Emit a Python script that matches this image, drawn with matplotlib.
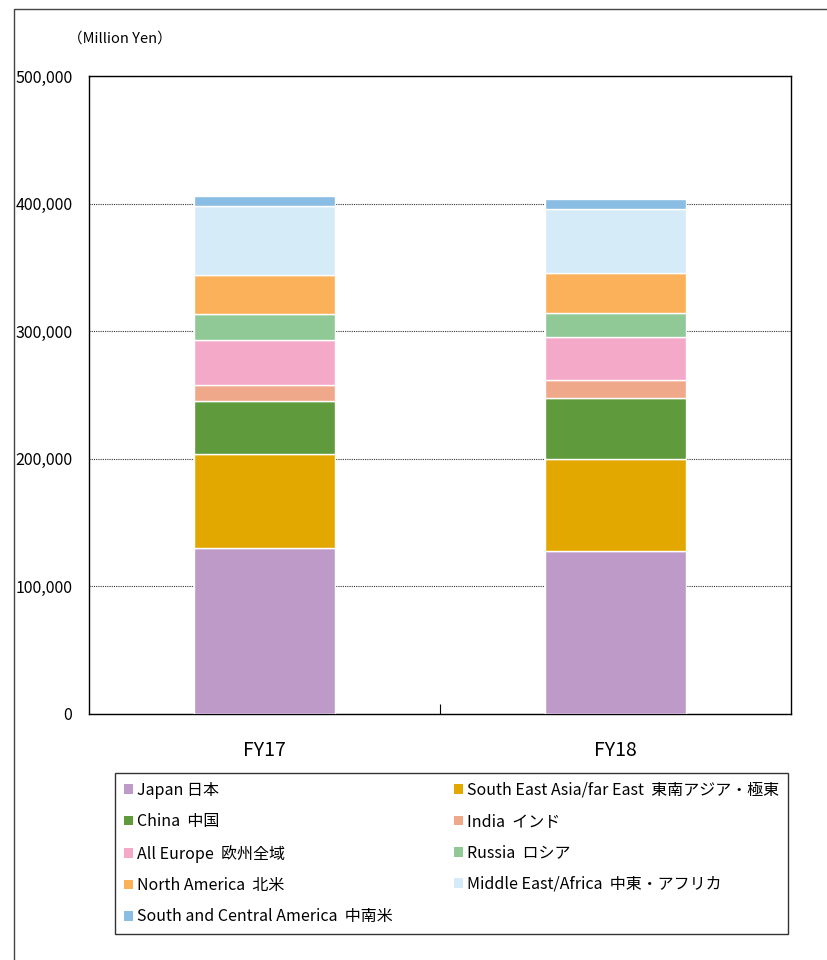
import matplotlib
matplotlib.use('Agg')
import matplotlib.pyplot as plt
from matplotlib.lines import Line2D
from matplotlib.patches import Patch
import numpy as np

plt.rcParams['font.family'] = ['Noto Sans CJK JP', 'DejaVu Sans']

years = ['FY17', 'FY18']

regions = ['Japan 日本',
           'South East Asia/far East  東南アジア・極東',
           'China  中国',
           'India  インド',
           'All Europe  欧州全域',
           'Russia  ロシア',
           'North America  北米',
           'Middle East/Africa  中東・アフリカ',
           'South and Central America  中南米']

# million yen (bottom to top)
japan = [130200, 127800]
se_asia = [73600, 72200]
china = [41300, 48000]
india = [12800, 13800]
europe = [35500, 34000]
russia = [20100, 18300]
north_america = [30600, 31600]
middle_east = [54100, 50100]
south_america = [8100, 8100]

series = [japan, se_asia, china, india, europe, russia,
          north_america, middle_east, south_america]

colors = ['#BE9AC8', '#E3A800', '#5F9A3C', '#F0A88A', '#F4A9C9',
          '#90C896', '#FBB05A', '#D5EBF8', '#8ABDE3']

fig = plt.figure(figsize=(8.27, 9.60), dpi=100)
ax = fig.add_axes([0.1076, 0.25625, 0.8489, 0.6646])

x = np.arange(len(years))
bottom = np.zeros(len(years))
for vals, color, label in zip(series, colors, regions):
    ax.bar(x, vals, width=0.4, bottom=bottom, color=color,
           edgecolor='white', linewidth=1.0, label=label, zorder=3)
    bottom += np.array(vals)

ax.set_xlim(-0.5, 1.5)
ax.set_ylim(0, 500000)
ax.set_yticks(range(0, 500001, 100000))
ax.set_yticklabels([f'{v:,}' for v in range(0, 500001, 100000)], fontsize=11.5)
ax.set_xticks(x)
ax.set_xticklabels(years, fontsize=14)
ax.set_xticks([0.5], minor=True)
ax.tick_params(axis='x', which='major', length=0, pad=19)
ax.tick_params(axis='x', which='minor', direction='in', length=7, width=0.8)
ax.tick_params(axis='y', length=0, pad=12)
ax.yaxis.grid(True, color='#333333', linestyle=(0, (1, 1)), linewidth=0.8, zorder=0)
for s in ax.spines.values():
    s.set_linewidth(1.0)
    s.set_color('black')

fig.text(0.082, 0.960, '（Million Yen）', fontsize=10.5, ha='left', va='center')

# outer chart border
fig.add_artist(Line2D([14 / 827, 14 / 827, 1.0], [0.0, 951 / 960, 951 / 960],
                      transform=fig.transFigure, color='#444444', linewidth=1.0))

# legend, row-wise order like the original
handles = [Patch(facecolor=c, edgecolor='none') for c in colors]
order = [0, 2, 4, 6, 8, 1, 3, 5, 7]
leg = fig.legend([handles[i] for i in order], [regions[i] for i in order],
                 loc='upper left', bbox_to_anchor=(115 / 827, 1 - 773 / 960),
                 ncol=2, fontsize=11.5, frameon=True, fancybox=False,
                 edgecolor='black', handlelength=0.55, handleheight=0.55,
                 handletextpad=0.3, columnspacing=3.8, labelspacing=0.9,
                 borderpad=0.55, borderaxespad=0)
leg.get_frame().set_linewidth(1.0)

fig.savefig('out.png', dpi=100)
